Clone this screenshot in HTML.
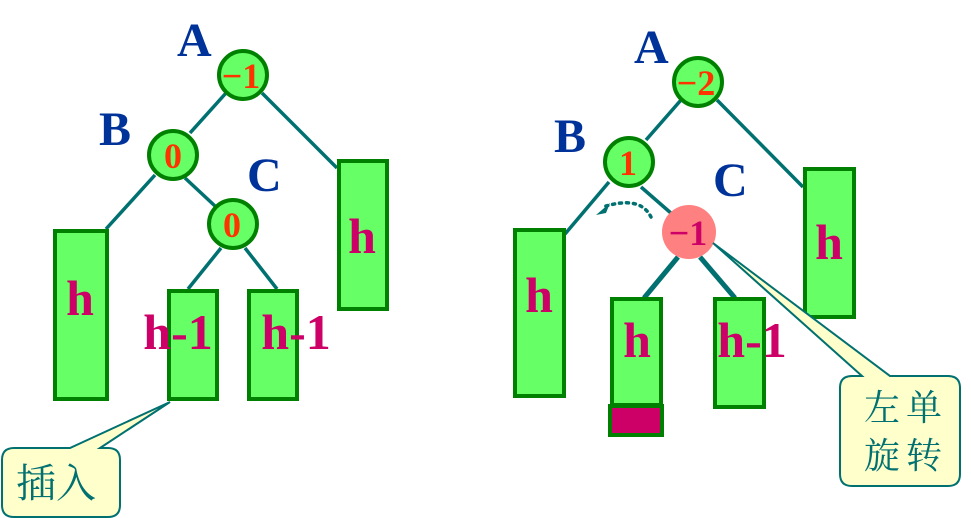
<!DOCTYPE html>
<html><head><meta charset="utf-8"><style>
html,body{margin:0;padding:0;background:#fff;}
svg{display:block;}
.lbl{font-family:"Liberation Serif",serif;font-weight:bold;fill:#003399;font-size:48px;}
.h{font-family:"Liberation Serif",serif;font-weight:bold;fill:#cc0066;font-size:50px;text-anchor:middle;}
.n{font-family:"Liberation Serif",serif;font-weight:bold;fill:#ff3300;font-size:36px;text-anchor:middle;}
.cj{font-family:"Liberation Sans","Noto Serif CJK SC","Noto Sans CJK SC",sans-serif;fill:#007070;font-size:36px;}
</style></head><body>
<svg width="971" height="518" viewBox="0 0 971 518" xmlns="http://www.w3.org/2000/svg">
<g stroke="#007070" stroke-width="3.5" fill="none">
<line x1="226" y1="93" x2="190" y2="133"/>
<line x1="262" y1="93" x2="337" y2="168"/>
<line x1="155" y1="175" x2="106" y2="229"/>
<line x1="185" y1="178" x2="215" y2="206"/>
<line x1="221" y1="248" x2="188" y2="289"/>
<line x1="245" y1="248" x2="277" y2="289"/>
<line x1="681" y1="100" x2="646" y2="140"/>
<line x1="717" y1="100" x2="803" y2="187"/>
<line x1="609" y1="182" x2="565" y2="234"/>
<line x1="641" y1="187" x2="672" y2="214"/>
<line x1="678" y1="257" x2="644" y2="298" stroke-width="5"/>
<line x1="700" y1="257" x2="735" y2="298" stroke-width="5"/>
<path d="M651 217 Q640 195 603 207" stroke-dasharray="2 5" stroke-linecap="round" stroke-width="3.5"/>
</g>
<polygon points="596,215 610,203 606,213" fill="#007070"/>
<g fill="#66ff66" stroke="#008000" stroke-width="4">
<rect x="55" y="231" width="52" height="168"/>
<rect x="169" y="291" width="48" height="108"/>
<rect x="249" y="291" width="48" height="108"/>
<rect x="339" y="161" width="48" height="148"/>
<rect x="515" y="230" width="49" height="166"/>
<rect x="612" y="299" width="49" height="106"/>
<rect x="715" y="299" width="49" height="108"/>
<rect x="805" y="169" width="49" height="148"/>
<circle cx="243" cy="75" r="24"/>
<circle cx="173" cy="155" r="24"/>
<circle cx="233" cy="224" r="24"/>
<circle cx="698" cy="82" r="24"/>
<circle cx="629" cy="162" r="24"/>
</g>
<rect x="610" y="406" width="52" height="29" fill="#cc0066" stroke="#008000" stroke-width="4"/>
<circle cx="689" cy="232" r="27" fill="#ff8080"/>
<g class="lbl"><text x="177" y="56">A</text><text x="99" y="145">B</text><text x="247" y="191">C</text>
<text x="634" y="63">A</text><text x="554" y="152">B</text><text x="713" y="196">C</text></g>
<g class="n"><text x="241" y="88">−1</text><text x="173" y="168">0</text><text x="232" y="237">0</text>
<text x="696" y="95">−2</text><text x="628" y="175">1</text></g>
<text x="688" y="245" class="n" style="fill:#cc0066">−1</text>
<g class="h"><text x="80" y="315">h</text><text x="178" y="349">h-1</text><text x="296" y="349">h-1</text><text x="362" y="253">h</text>
<text x="539" y="312">h</text><text x="637" y="357">h</text><text x="752" y="357">h-1</text><text x="829" y="259">h</text></g>
<g fill="#ffffcc" stroke="#007070" stroke-width="2">
<path d="M14 448 H70 L170 402 L100 448 H108 Q120 448 120 460 V505 Q120 517 108 517 H14 Q2 517 2 505 V460 Q2 448 14 448 Z"/>
<path d="M852 376 H862 L713 243 L890 376 H948 Q960 376 960 388 V474 Q960 486 948 486 H852 Q840 486 840 474 V388 Q840 376 852 376 Z"/>
</g>
<text x="16" y="497" class="cj" style="font-size:40px">插入</text>
<text x="864" y="420" class="cj" style="letter-spacing:6px">左单</text>
<text x="864" y="468" class="cj" style="letter-spacing:6px">旋转</text>
</svg>
</body></html>
